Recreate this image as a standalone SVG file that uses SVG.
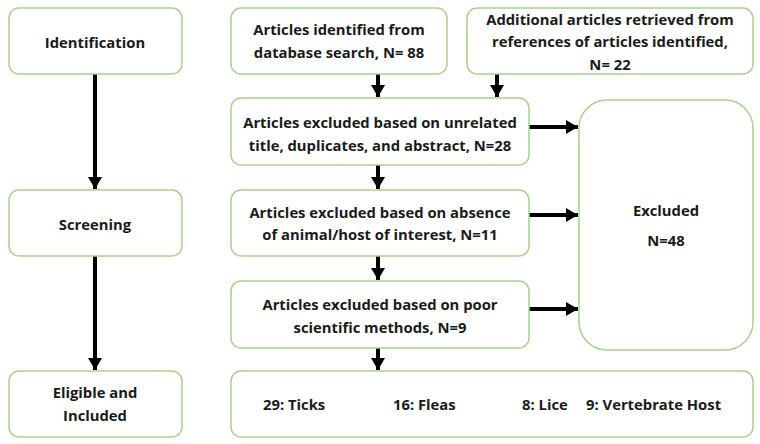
<svg xmlns="http://www.w3.org/2000/svg" width="760" height="444" viewBox="0 0 760 444">
<style>
.box{fill:#fff;stroke:#a9d18e;stroke-width:1.5}
text{font-family:"Open Sans","Liberation Sans",sans-serif;font-weight:bold;font-size:14.8px;fill:#1a1a1a;text-anchor:middle}
.l{text-anchor:start}
.c{stroke:#000;stroke-width:4;fill:none;marker-end:url(#ah)}
</style>
<defs>
<marker id="ah" markerUnits="userSpaceOnUse" markerWidth="12" markerHeight="14" refX="12" refY="7" orient="auto"><path d="M0,0 L12,7 L0,14 z" fill="#000"/></marker>
</defs>
<rect width="760" height="444" fill="#fff"/>
<g id="connectors">
<path class="c" d="M95,74 V189"/>
<path class="c" d="M95,256 V370"/>
<path class="c" d="M378,74 V97"/>
<path class="c" d="M497,74 V97"/>
<path class="c" d="M378,165 V189"/>
<path class="c" d="M378,256 V280"/>
<path class="c" d="M378,348 V370"/>
<path class="c" d="M529,127 H578"/>
<path class="c" d="M529,215 H578"/>
<path class="c" d="M529,309 H578"/>
</g>
<g id="identification"><rect class="box" x="9" y="8" width="173" height="66" rx="10"/><text x="95" y="48">Identification</text></g>
<g id="screening"><rect class="box" x="9" y="190" width="173" height="66" rx="10"/><text x="95" y="230">Screening</text></g>
<g id="eligible"><rect class="box" x="9" y="371" width="173" height="66" rx="10"/><text x="95" y="398">Eligible and</text><text x="95" y="421">Included</text></g>
<g id="database"><rect class="box" x="231" y="8" width="216" height="66" rx="10"/><text x="339" y="35">Articles identified from</text><text x="339" y="58">database search, N= 88</text></g>
<g id="additional"><rect class="box" x="467" y="8" width="286" height="66" rx="10"/><text x="610" y="25">Additional articles retrieved from</text><text x="610" y="47">references of articles identified,</text><text x="610" y="70">N= 22</text></g>
<g id="unrelated"><rect class="box" x="231" y="98" width="298" height="67" rx="10"/><text x="380" y="128">Articles excluded based on unrelated</text><text x="380" y="151">title, duplicates, and abstract, N=28</text></g>
<g id="absence"><rect class="box" x="231" y="190" width="298" height="66" rx="10"/><text x="380" y="218">Articles excluded based on absence</text><text x="380" y="240">of animal/host of interest, N=11</text></g>
<g id="poor"><rect class="box" x="231" y="281" width="298" height="67" rx="10"/><text x="380" y="310">Articles excluded based on poor</text><text x="380" y="333">scientific methods, N=9</text></g>
<g id="excluded"><rect class="box" x="579" y="100" width="174" height="250" rx="28"/><text x="666" y="216">Excluded</text><text x="666" y="246">N=48</text></g>
<g id="included"><rect class="box" x="231" y="371" width="522" height="66" rx="10"/><text class="l" x="263" y="410">29: Ticks</text><text class="l" x="393" y="410">16: Fleas</text><text class="l" x="522" y="410">8: Lice</text><text class="l" x="586" y="410">9: Vertebrate Host</text></g>
</svg>
